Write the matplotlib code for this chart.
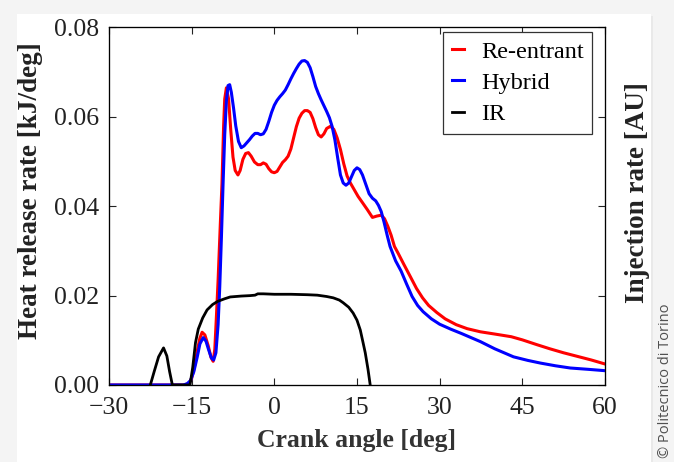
import matplotlib
matplotlib.use('Agg')
import matplotlib.pyplot as plt
from matplotlib.patches import Rectangle


### Data ########################################################################
# Re-entrant bowl, heat release rate [kJ/deg]
red_angle = [-30, -16.5, -15.5, -15, -14.5, -14, -13.5, -13.1, -12.6, -12, -11.5, -11.1,
             -10.8, -10.5, -10.2, -9.8, -9.5, -9.2, -9.0, -8.7, -8.3, -7.9, -7.5, -7.1,
             -6.6, -6.2, -5.7, -5.2, -4.7, -4.2, -3.6, -3.0, -2.5, -2.0, -1.5, -1.0, -0.5,
             0, 0.5, 1.0, 1.5, 2.0, 2.5, 3.0, 3.5, 4.0, 4.5, 5.0, 5.5, 6.0, 6.5, 7.0, 7.5,
             8.0, 8.5, 9.0, 9.5, 10.2, 10.8, 11.4, 12, 12.6, 13.2, 13.8, 14.5, 15.2, 16,
             16.9, 17.8, 18.6, 19.4, 20, 20.6, 21.2, 21.8, 22.5, 23.5, 24.7, 25.8, 26.9,
             28, 29.5, 31, 33, 35, 37.4, 40, 43, 45, 47.7, 50, 52.5, 55, 57.5, 60]
red_hrr = [0, 0, 0.0003, 0.0015, 0.004, 0.0075, 0.0105, 0.0118, 0.0112, 0.0088, 0.0062, 0.0053,
           0.008, 0.0155, 0.0235, 0.036, 0.045, 0.058, 0.064, 0.0665, 0.064, 0.057, 0.051, 0.048,
           0.047, 0.048, 0.0505, 0.0518, 0.052, 0.0512, 0.0499, 0.0493, 0.0493, 0.0497, 0.0494, 0.0484, 0.0477,
           0.0475, 0.0478, 0.0488, 0.0498, 0.0504, 0.0512, 0.0528, 0.0553, 0.0578, 0.0597, 0.0608, 0.0614, 0.0614, 0.061, 0.0596, 0.0576,
           0.056, 0.0555, 0.0562, 0.0574, 0.0579, 0.0572, 0.0553, 0.0527, 0.0495, 0.0468, 0.0452, 0.0437, 0.0422, 0.0408,
           0.0392, 0.0375, 0.0378, 0.038, 0.0372, 0.0355, 0.0335, 0.031, 0.0294, 0.027, 0.0242, 0.0216, 0.0195,
           0.0178, 0.0162, 0.0148, 0.0135, 0.0126, 0.0119, 0.0114, 0.0108, 0.0101, 0.009, 0.0081, 0.0072, 0.0064, 0.0056, 0.0047]

# Hybrid bowl, heat release rate [kJ/deg]
blue_angle = [-30, -16.5, -15.8, -15.2, -14.6, -14, -13.5, -12.9, -12.4, -11.9, -11.4, -11.0,
              -10.6, -10.2, -9.9, -9.6, -9.3, -9.0, -8.7, -8.4, -8.1, -7.8, -7.4, -7.0, -6.5,
              -6.0, -5.5, -5.0, -4.5, -4.0, -3.5, -3.0, -2.5, -2.0, -1.5, -1.0, -0.5, 0, 0.5,
              1.0, 1.5, 2.0, 2.5, 3.0, 3.5, 4.0, 4.5, 5.0, 5.5, 6.0, 6.5, 7.0, 7.5, 8.0, 8.5,
              9.0, 9.5, 10.0, 10.5, 11.0, 11.5, 12.0, 12.5, 13.0, 13.5, 14.0, 14.5, 15.0, 15.5,
              16.0, 16.6, 17.2, 17.8, 18.4, 18.9, 19.4, 19.9, 20.5, 21.0, 22, 23, 24, 25, 26,
              27, 28.5, 30, 32, 34, 37.4, 40, 43.4, 46, 48.3, 51, 53.7, 57, 60]
blue_hrr = [0, 0, 0.0003, 0.001, 0.003, 0.0062, 0.0092, 0.0106, 0.0098, 0.0078, 0.006, 0.0056,
            0.0072, 0.0135, 0.022, 0.033, 0.045, 0.056, 0.0635, 0.067, 0.0672, 0.0655, 0.062, 0.058, 0.0545,
            0.0531, 0.0535, 0.0542, 0.0549, 0.0557, 0.0563, 0.0563, 0.056, 0.0562, 0.0572, 0.059, 0.061, 0.0626, 0.0637,
            0.0645, 0.0652, 0.066, 0.0672, 0.0685, 0.0697, 0.0708, 0.0718, 0.0725, 0.0726, 0.0722, 0.071, 0.069, 0.0668, 0.0652, 0.0638,
            0.0625, 0.0612, 0.0598, 0.0578, 0.0548, 0.0508, 0.047, 0.0452, 0.0447, 0.0452, 0.0466, 0.048, 0.0486, 0.0482,
            0.047, 0.0449, 0.0428, 0.0418, 0.0412, 0.0402, 0.0388, 0.0365, 0.0334, 0.031, 0.0278, 0.0255, 0.0226, 0.0198, 0.0178,
            0.0164, 0.0148, 0.0136, 0.0125, 0.0115, 0.0097, 0.0081, 0.0063, 0.0055, 0.0049, 0.0043, 0.0038, 0.0035, 0.0032]

# Injection rate [AU]
ir_angle = [-22.5, -21.8, -21, -20.1, -19.5, -19, -18.5, -15.3, -14.8, -14.3, -13.8, -13.0,
            -12.2, -11.2, -10.3, -9, -8, -6, -4.4, -3.5, -3.0, -2, 0, 3, 6, 7.8, 9.5, 10.7,
            11.8, 12.5, 13.5, 14.3, 15, 15.6, 16.1, 16.5, 17.0, 17.4]
ir_rate = [0, 0.003, 0.0063, 0.0083, 0.0065, 0.003, 0, 0, 0.004, 0.0095, 0.0125, 0.015,
           0.0168, 0.018, 0.0187, 0.0193, 0.0197, 0.0199, 0.02, 0.0201, 0.0204, 0.0204, 0.0203, 0.0203, 0.0202, 0.0201, 0.0198, 0.0195,
           0.019, 0.0184, 0.0174, 0.0161, 0.0145, 0.0123, 0.0095, 0.0072, 0.0035, 0]

x_ticks = [-30, -15, 0, 15, 30, 45, 60]
y_ticks = [0.00, 0.02, 0.04, 0.06, 0.08]
################################################################################


plt.rcParams['font.family'] = ['Liberation Serif', 'DejaVu Serif']

fig = plt.figure(figsize=(6.74, 4.62), dpi=100)
fig.patch.set_facecolor('#f4f4f4')
# white card with a faint shadow behind the chart
fig.patches.append(Rectangle((0.0282, 0.0), 0.9407, 0.966, transform=fig.transFigure,
                             facecolor='#e9e9e9', edgecolor='none', zorder=-2))
fig.patches.append(Rectangle((0.0252, 0.0), 0.9407, 0.9697, transform=fig.transFigure,
                             facecolor='white', edgecolor='none', zorder=-1))

ax = fig.add_axes([0.1617, 0.1667, 0.7359, 0.7738])

ax.plot(red_angle, red_hrr, color='#ff0000', linewidth=2.2, label='Re-entrant')
ax.plot(blue_angle, blue_hrr, color='#0000ff', linewidth=2.2, label='Hybrid')
ax.plot(ir_angle, ir_rate, color='black', linewidth=2.0, label='IR')

ax.set_xlim(-30, 60)
ax.set_ylim(0, 0.08)
ax.set_xticks(x_ticks)
ax.set_yticks(y_ticks)
ax.set_yticklabels(['%.2f' % v for v in y_ticks])
ax.tick_params(direction='in', length=5, width=0.8, labelsize=18.5, top=True, colors='#222222')
ax.tick_params(axis='x', pad=9)
ax.tick_params(axis='y', pad=7)
for s in ax.spines.values():
    s.set_linewidth(0.9)
    s.set_color('#222222')

ax.set_xlabel('Crank angle [deg]', fontsize=18.5, fontweight='bold', color='#333333', labelpad=7)
ax.set_ylabel('Heat release rate [kJ/deg]', fontsize=19.5, fontweight='bold', color='#222222')
ax.yaxis.set_label_coords(-0.134, 0.543)

# right axis only carries the injection rate label
ax2 = ax.twinx()
ax2.set_ylim(0, 0.08)
ax2.set_yticks(y_ticks)
ax2.set_yticklabels([])
ax2.tick_params(direction='in', length=5, width=0.8, colors='#222222')
ax2.set_ylabel('Injection rate [AU]', fontsize=19.5, fontweight='bold', color='#222222')
ax2.yaxis.set_label_coords(1.041, 0.539)

leg = ax.legend(loc='upper right', bbox_to_anchor=(0.974, 0.987), borderaxespad=0,
                fontsize=17.5, handlelength=0.5, handletextpad=0.7, labelspacing=0.38,
                fancybox=False, framealpha=1, borderpad=0.35)
leg.get_frame().set_edgecolor('#333333')
leg.get_frame().set_linewidth(0.9)

fig.text(0.987, 0.008, '\u00a9 Politecnico di Torino', rotation=90, ha='center', va='bottom',
         color='#505050', fontsize=10.5, family='Open Sans')

fig.savefig('out.png', dpi=100, facecolor=fig.get_facecolor())
